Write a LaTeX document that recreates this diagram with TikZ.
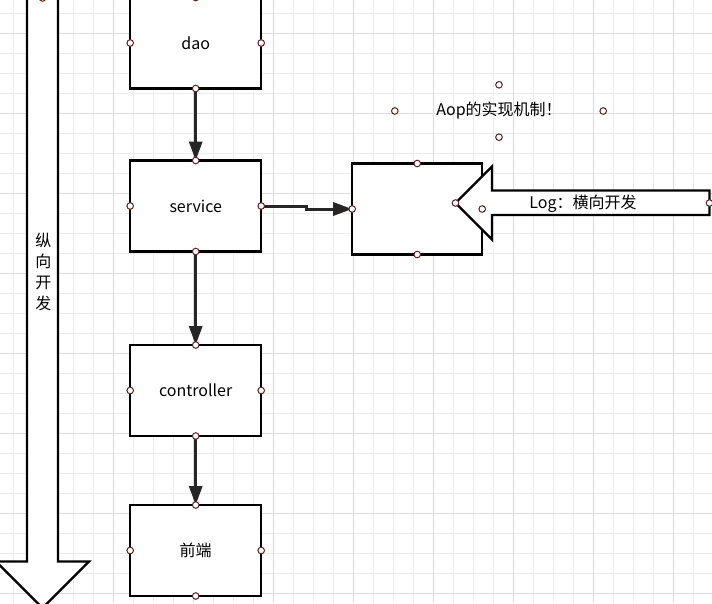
\documentclass[tikz,border=0pt]{standalone}
\usepackage{fontspec}
\setmainfont{Noto Sans CJK SC}
\usetikzlibrary{arrows.meta,positioning}
\definecolor{portred}{RGB}{90,35,35}
\definecolor{minorgray}{RGB}{236,236,236}
\definecolor{majorgray}{RGB}{220,220,220}
\newcommand{\ports}[1]{%
  \foreach \a in {north,south,east,west}
    \draw[port] (#1.\a) circle (3.3pt);}

\begin{document}
\begin{tikzpicture}[x=1pt,y=-1pt,>={Triangle[length=19pt,width=13pt]},
   layer/.style={draw,line width=2.4pt,fill=white,minimum width=131pt,
                 minimum height=91pt,inner sep=0pt,outer sep=0pt,
                 font=\fontsize{16}{19}\selectfont},
   flow/.style={->,line width=3pt,draw=black!85},
   port/.style={draw=portred,fill=white,line width=1pt},
   bigarrow/.style={draw,line width=2.4pt,fill=white,line join=miter},
   label/.style={font=\fontsize{16}{19}\selectfont,inner sep=0pt}]

 \clip (0,0) rectangle (712,603);
 \fill[white] (0,0) rectangle (712,603);
 % grid
 \foreach \i in {0,...,34} \draw[minorgray,line width=0.8pt] (13.3+20*\i,0) -- (13.3+20*\i,603);
 \foreach \i in {0,...,29} \draw[minorgray,line width=0.8pt] (0,13.3+20*\i) -- (712,13.3+20*\i);
 \foreach \i in {0,...,8} \draw[majorgray,line width=0.8pt] (33.3+80*\i,0) -- (33.3+80*\i,603);
 \foreach \i in {0,...,7} \draw[majorgray,line width=0.8pt] (0,33.3+80*\i) -- (712,33.3+80*\i);

 % vertical development arrow
 \coordinate (vtop) at (42.5,-2);
 \draw[bigarrow] (27,-2) -- (27,561.5) -- (-4,561.5) -- (42.5,608)
                 -- (89,561.5) -- (58,561.5) -- (58,-2) -- cycle;
 \node[label,align=center,font=\fontsize{16}{21}\selectfont] (vtext) at (43.3,271.5) {纵\\向\\开\\发};

 \node[layer] (service) at (195.7,206) {service};
 \node[layer] (dao) [above=72pt of service] {dao};
 \node[layer] (controller) [below=93.5pt of service] {controller};
 \node[layer] (front) [below=69pt of controller] {前端};
 \node[layer,minimum width=130pt] (aspect) [right=91pt of service,yshift=-3pt] {};

 \node[label,minimum width=208pt,minimum height=52pt] (aop) at (499,111) {Aop的实现机制！};

 \draw[flow] (dao) -- (service);
 \draw[flow] (service) -- (controller);
 \draw[flow] (controller) -- (front);
 \draw[flow] (service.east) -- ++(45,0) |- (aspect.west);

 % horizontal Log arrow
 \coordinate (logtip) at (455.5,203);
 \coordinate (logtail) at (709.5,203);
 \draw[bigarrow] (logtip) -- (492,166.5) -- (492,190.5) -- (709.5,190.5)
                 -- (709.5,215) -- (492,215) -- (492,239.5) -- cycle;
 \node[label] (log) at (583,204) {Log：横向开发};

 \ports{dao} \ports{service} \ports{controller} \ports{front}
 \ports{aspect} \ports{aop}
 \draw[port] (logtip) circle (3.3pt);
 \draw[port] (logtail) circle (3.3pt);
 \draw[port] (vtop) circle (3.3pt);

\end{tikzpicture}
\end{document}
